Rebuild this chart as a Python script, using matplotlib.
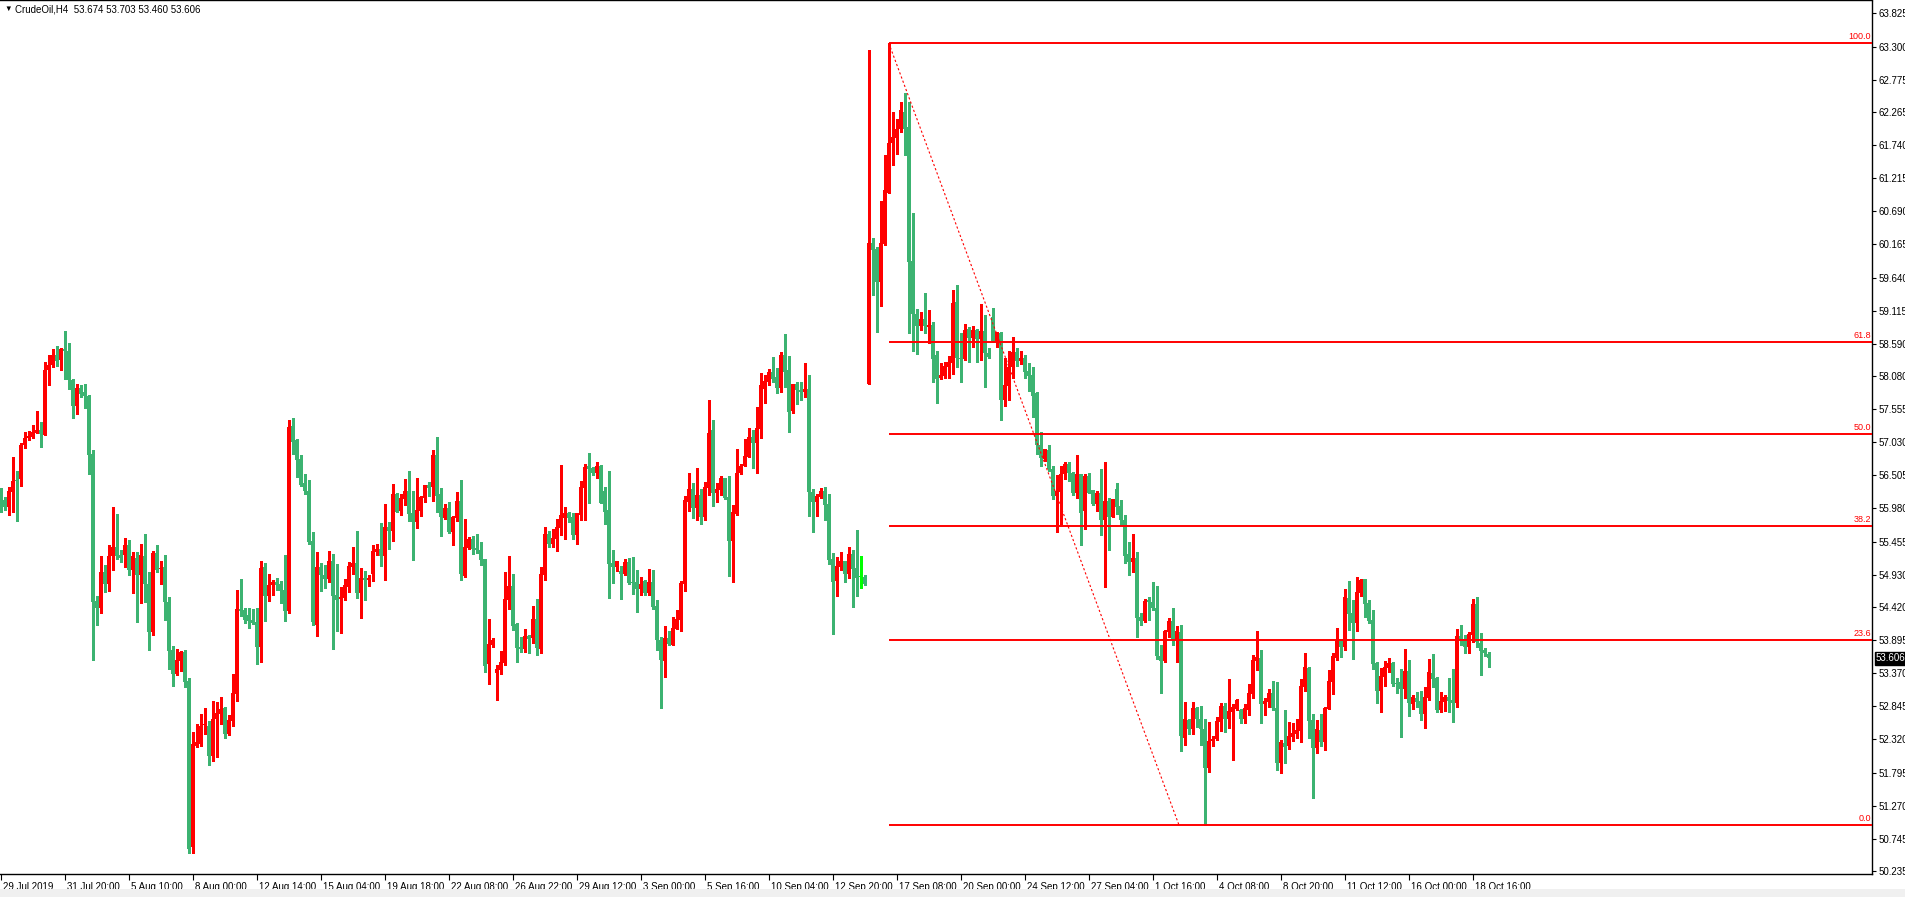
import numpy as np
import matplotlib
matplotlib.use('Agg')
import matplotlib.pyplot as plt
from matplotlib.patches import Rectangle
from matplotlib.transforms import ScaledTranslation, blended_transform_factory

plt.rcParams['font.family'] = ['Liberation Sans', 'DejaVu Sans']

symbol = 'CrudeOil,H4'
last_ohlc = [53.674, 53.703, 53.460, 53.606]

# H4 candles, 29 Jul 2019 .. 18 Oct 2019
opens = [
    56.18, 56.11, 56.01, 56.24, 56.42, 56.45, 56.99, 57.09, 57.11, 57.18,
    57.23, 57.15, 58.17, 58.25, 58.42, 58.33, 58.50, 58.48, 58.01, 57.61,
    57.89, 57.82, 57.76, 56.84, 54.52, 54.41, 54.98, 54.78, 55.22, 55.37,
    55.25, 55.25, 55.40, 55.00, 55.20, 54.92, 55.23, 54.79, 54.03, 55.28,
    55.02, 55.05, 54.50, 53.73, 53.36, 53.56, 53.71, 53.24, 50.62, 52.22,
    52.24, 52.55, 52.54, 52.05, 52.65, 52.73, 52.82, 52.40, 52.61, 53.04,
    54.38, 54.37, 54.29, 54.21, 54.18, 53.79, 55.05, 54.59, 54.76, 54.81,
    54.78, 54.69, 54.35, 57.29, 57.07, 56.76, 56.38, 56.25, 55.46, 54.13,
    55.05, 54.92, 54.86, 55.15, 54.61, 54.54, 54.56, 54.74, 55.05, 55.11,
    54.64, 54.88, 54.84, 54.94, 55.29, 55.34, 55.22, 55.68, 55.62, 56.21,
    55.94, 56.13, 56.25, 55.91, 55.76, 55.94, 56.15, 56.36, 56.32, 56.82,
    56.21, 55.83, 55.98, 55.60, 55.83, 56.10, 54.91, 55.35, 55.49, 55.35,
    55.32, 55.18, 53.51, 53.81, 53.37, 53.42, 53.53, 54.53, 54.75, 54.15,
    53.78, 53.75, 53.96, 53.92, 54.23, 53.75, 54.92, 55.57, 55.41, 55.49,
    55.67, 55.83, 55.91, 55.84, 55.56, 55.87, 56.30, 56.65, 56.62, 56.54,
    56.65, 56.25, 55.95, 55.11, 55.06, 54.99, 54.94, 55.13, 54.81, 54.81,
    54.70, 54.83, 54.64, 54.81, 54.44, 53.90, 53.57, 53.93, 53.82, 54.07,
    54.21, 54.79, 56.09, 56.29, 55.98, 56.19, 55.84, 56.30, 57.22, 56.23,
    56.27, 56.46, 56.16, 55.47, 55.90, 56.54, 56.66, 56.79, 57.11, 57.01,
    57.24, 57.87, 57.98, 58.14, 58.06, 57.89, 58.42, 58.17, 57.52, 57.95,
    57.85, 57.82, 57.87, 56.24, 56.08, 56.16, 56.25, 56.05, 55.18, 54.83,
    55.06, 55.15, 54.94, 55.26, 55.04, 54.89, 54.90,
    57.95, 60.19, 60.09,
    59.57, 60.17, 60.98, 61.77, 61.85, 61.99, 62.27, 62.02, 59.90, 59.07,
    58.87, 58.98, 58.86, 58.89, 58.41, 58.05, 58.08, 58.22, 58.29, 59.25,
    58.37, 58.35, 58.82, 58.68, 58.81, 58.67, 58.79, 58.45, 59.01, 58.63,
    58.76, 57.70, 57.92, 58.22, 58.46, 58.32, 58.37, 58.16, 58.10, 57.81,
    56.98, 56.77, 56.91, 56.60, 56.18, 56.24, 56.52, 56.69, 56.54, 56.23,
    56.52, 55.94, 56.49, 56.27, 56.05, 56.22, 55.79, 56.10, 55.85, 56.29,
    56.02, 55.80, 55.26, 55.13, 55.19, 54.26, 54.20, 54.53, 54.50, 54.40,
    53.64, 53.57, 54.03, 54.20, 53.90, 54.03, 52.35, 52.63, 52.49, 52.81,
    52.64, 52.48, 51.87, 52.29, 52.33, 52.59, 52.85, 52.64, 52.76, 52.80,
    52.79, 52.64, 52.79, 53.04, 53.56, 53.61, 52.88, 52.91, 53.05, 52.82,
    51.95, 52.26, 52.21, 52.36, 52.40, 52.45, 53.15, 53.45, 52.63, 52.18,
    52.47, 52.28, 52.80, 53.23, 53.61, 53.88, 53.78, 54.56, 54.32, 54.16,
    54.64, 54.86, 54.48, 54.21, 53.53, 53.09, 53.31, 53.45, 53.53, 53.21,
    53.23, 53.12, 53.40, 52.88, 52.98, 52.93, 52.72, 52.98, 53.37, 53.29,
    52.79, 52.91, 52.99, 52.94, 52.90, 53.96, 53.91, 53.78, 53.97, 54.46,
    53.85, 53.74, 53.674,
]
highs = [
    56.30, 56.16, 56.32, 56.80, 56.58, 57.02, 57.20, 57.21, 57.31, 57.52,
    57.35, 58.30, 58.42, 58.50, 58.55, 58.52, 58.80, 58.61, 58.03, 57.96,
    57.94, 57.96, 57.78, 56.90, 54.60, 55.23, 55.08, 55.40, 56.00, 55.89,
    55.32, 55.51, 55.48, 55.29, 55.29, 55.42, 55.57, 54.98, 55.30, 55.40,
    55.15, 55.25, 54.57, 53.80, 53.75, 53.72, 53.74, 53.29, 52.44, 52.56,
    52.72, 52.82, 52.61, 52.93, 52.92, 53.00, 52.84, 52.71, 53.36, 54.69,
    54.87, 54.40, 54.41, 54.39, 54.41, 55.15, 55.12, 54.94, 54.84, 54.88,
    54.83, 55.25, 57.39, 57.42, 57.08, 56.82, 56.52, 56.43, 55.60, 55.29,
    55.12, 55.08, 55.30, 55.26, 55.10, 54.73, 54.86, 55.13, 55.37, 55.62,
    55.03, 54.99, 54.92, 55.40, 55.42, 55.75, 56.05, 55.76, 56.37, 56.22,
    56.21, 56.44, 56.57, 56.25, 56.46, 56.18, 56.36, 56.40, 56.90, 57.11,
    56.30, 56.05, 56.08, 55.86, 56.24, 56.43, 55.81, 55.53, 55.54, 55.57,
    55.45, 55.18, 54.23, 53.92, 53.50, 53.72, 54.97, 55.22, 54.94, 54.16,
    53.94, 54.07, 53.97, 54.43, 54.54, 55.05, 55.68, 55.62, 55.65, 55.81,
    56.67, 56.00, 55.92, 55.91, 55.91, 56.41, 56.68, 56.86, 56.63, 56.71,
    56.67, 56.32, 56.57, 55.32, 55.15, 55.07, 55.18, 55.20, 55.21, 55.00,
    54.89, 54.84, 55.02, 55.01, 54.53, 53.95, 54.12, 54.04, 54.26, 54.37,
    54.83, 56.18, 56.54, 56.39, 56.62, 56.29, 56.40, 57.70, 57.38, 56.38,
    56.49, 56.47, 56.50, 56.03, 56.92, 56.68, 57.08, 57.26, 57.22, 57.59,
    58.12, 58.09, 58.19, 58.38, 58.20, 58.46, 58.74, 58.39, 57.96, 57.98,
    57.99, 58.28, 58.09, 56.29, 56.21, 56.30, 56.32, 56.21, 55.27, 55.21,
    55.29, 55.15, 55.37, 55.32, 55.64, 55.22, 54.92,
    63.24, 60.26, 60.12,
    60.86, 61.58, 63.355, 62.27, 62.15, 62.42, 62.56, 62.42, 60.66, 59.14,
    59.10, 59.39, 59.13, 58.93, 58.47, 58.29, 58.30, 58.40, 59.44, 59.52,
    58.76, 58.90, 58.86, 58.88, 58.82, 59.22, 59.05, 58.52, 59.15, 58.78,
    58.78, 58.37, 58.48, 58.70, 58.52, 58.48, 58.41, 58.29, 58.22, 57.82,
    57.19, 56.93, 56.98, 56.65, 56.51, 56.65, 56.72, 56.72, 56.56, 56.82,
    56.53, 56.52, 56.55, 56.28, 56.25, 56.60, 56.72, 56.15, 56.13, 56.38,
    56.11, 55.87, 55.45, 55.57, 55.29, 54.32, 54.55, 54.58, 54.82, 54.75,
    53.81, 54.06, 54.24, 54.40, 54.11, 54.13, 52.91, 52.65, 52.91, 52.84,
    52.85, 52.64, 52.60, 52.37, 52.68, 52.90, 52.90, 53.28, 52.88, 52.96,
    52.80, 52.88, 53.20, 53.66, 54.04, 53.74, 52.97, 53.12, 53.24, 53.23,
    52.31, 52.79, 52.60, 52.58, 52.64, 53.28, 53.69, 53.47, 52.72, 52.63,
    52.72, 52.83, 53.42, 53.69, 54.08, 53.91, 54.70, 54.83, 54.53, 54.89,
    54.86, 54.86, 54.53, 54.37, 53.54, 53.45, 53.56, 53.61, 53.54, 53.29,
    53.43, 53.75, 53.58, 53.02, 53.07, 53.09, 53.15, 53.59, 53.67, 53.31,
    53.07, 53.02, 53.29, 53.43, 54.07, 54.13, 53.97, 54.02, 54.54, 54.57,
    54.00, 53.77, 53.703,
]
lows = [
    55.93, 55.96, 55.88, 55.93, 55.78, 56.34, 56.94, 57.07, 57.09, 57.17,
    56.95, 57.14, 57.94, 58.22, 58.24, 58.18, 58.04, 57.87, 57.41, 57.48,
    57.74, 57.58, 56.53, 53.58, 54.13, 54.32, 54.66, 54.68, 55.01, 55.18,
    55.13, 55.05, 54.92, 54.64, 54.18, 54.48, 54.50, 53.74, 53.98, 54.98,
    54.79, 54.21, 53.43, 53.17, 53.34, 53.40, 53.15, 50.52, 50.52, 52.20,
    52.22, 52.41, 51.92, 51.97, 52.04, 52.57, 52.35, 52.39, 52.53, 52.93,
    54.27, 54.17, 54.09, 54.15, 53.52, 53.54, 54.20, 54.52, 54.61, 54.69,
    54.48, 54.20, 54.32, 56.84, 56.48, 56.33, 56.21, 55.41, 54.13, 53.96,
    54.68, 54.72, 54.81, 53.75, 54.04, 54.01, 54.53, 54.65, 54.94, 54.56,
    54.24, 54.53, 54.75, 54.83, 55.24, 55.07, 54.84, 55.34, 55.46, 55.92,
    55.87, 56.03, 55.78, 55.16, 55.67, 55.86, 56.08, 56.17, 56.10, 55.92,
    55.55, 55.81, 55.59, 55.40, 55.78, 54.84, 54.89, 55.34, 55.26, 55.27,
    55.08, 53.39, 53.20, 53.79, 52.94, 53.36, 53.50, 54.39, 54.05, 53.55,
    53.70, 53.70, 53.69, 53.85, 53.66, 53.69, 54.84, 55.37, 55.37, 55.30,
    55.56, 55.49, 55.76, 55.49, 55.41, 55.79, 55.79, 56.06, 56.51, 56.46,
    56.06, 55.73, 54.56, 54.80, 54.99, 54.55, 54.93, 54.79, 54.63, 54.34,
    54.61, 54.61, 54.61, 54.38, 53.74, 52.82, 53.31, 53.82, 53.82, 54.07,
    54.04, 54.67, 55.94, 55.83, 55.79, 55.74, 55.79, 56.20, 56.02, 56.09,
    56.20, 56.13, 54.91, 54.81, 55.87, 56.52, 56.65, 56.79, 56.62, 56.54,
    57.09, 57.65, 57.93, 57.99, 57.81, 57.82, 57.90, 57.19, 57.49, 57.63,
    57.70, 57.74, 55.86, 55.60, 55.86, 56.14, 55.79, 55.10, 53.99, 54.60,
    55.01, 54.81, 54.88, 54.42, 54.60, 54.72, 54.77,
    57.95, 59.36, 58.78,
    59.19, 60.15, 60.98, 61.42, 61.60, 61.94, 61.59, 58.76, 58.48, 58.43,
    58.81, 58.76, 58.60, 57.99, 57.65, 58.03, 58.05, 58.05, 58.11, 58.22,
    57.99, 58.33, 58.30, 58.54, 58.30, 58.33, 57.91, 58.37, 58.62, 58.54,
    57.38, 57.60, 57.70, 58.05, 58.24, 58.27, 58.05, 57.84, 57.43, 56.85,
    56.65, 56.74, 56.58, 56.13, 55.61, 55.73, 56.44, 56.42, 56.20, 56.14,
    55.40, 55.65, 56.22, 56.03, 55.94, 55.56, 54.74, 55.32, 55.85, 55.90,
    55.72, 55.11, 54.92, 54.98, 53.95, 54.14, 54.18, 54.21, 54.37, 53.59,
    53.05, 53.55, 53.95, 53.81, 53.55, 52.14, 52.23, 52.41, 52.40, 52.52,
    52.23, 50.97, 51.81, 52.22, 52.31, 52.45, 52.43, 52.50, 51.99, 52.79,
    52.58, 52.58, 52.71, 52.98, 53.42, 52.58, 52.71, 52.84, 52.79, 51.83,
    51.79, 51.95, 52.17, 52.29, 52.34, 52.28, 53.09, 52.34, 51.39, 52.10,
    52.22, 52.15, 52.80, 53.04, 53.58, 53.62, 53.74, 54.05, 53.59, 54.04,
    54.59, 54.26, 54.16, 53.43, 52.90, 52.75, 53.17, 53.39, 53.17, 53.05,
    52.36, 52.97, 52.69, 52.80, 52.83, 52.63, 52.50, 52.94, 53.15, 52.75,
    52.75, 52.77, 52.75, 52.59, 52.83, 53.81, 53.69, 53.69, 53.86, 53.78,
    53.34, 53.64, 53.460,
]
closes = [
    56.10, 56.01, 56.26, 56.42, 56.41, 56.99, 57.10, 57.13, 57.20, 57.23,
    57.16, 58.18, 58.25, 58.42, 58.31, 58.50, 58.47, 58.01, 57.61, 57.89,
    57.80, 57.76, 56.82, 54.49, 54.41, 54.98, 54.78, 55.23, 55.37, 55.23,
    55.19, 55.40, 55.00, 55.22, 54.92, 55.25, 54.78, 54.03, 55.28, 55.01,
    55.03, 54.50, 53.72, 53.36, 53.58, 53.71, 53.23, 50.59, 52.24, 52.28,
    52.54, 52.56, 52.05, 52.65, 52.74, 52.80, 52.40, 52.62, 53.05, 54.39,
    54.35, 54.21, 54.20, 54.17, 53.79, 55.03, 54.59, 54.77, 54.81, 54.77,
    54.68, 54.35, 57.27, 57.04, 56.75, 56.35, 56.25, 55.45, 54.18, 55.05,
    54.92, 54.86, 55.15, 54.59, 54.53, 54.58, 54.77, 55.07, 55.12, 54.64,
    54.88, 54.84, 54.88, 55.30, 55.34, 55.22, 55.68, 55.62, 56.21, 55.92,
    56.14, 56.25, 55.90, 55.76, 55.95, 56.16, 56.35, 56.30, 56.82, 56.17,
    55.84, 55.98, 55.60, 55.84, 56.10, 54.94, 55.37, 55.49, 55.34, 55.32,
    55.16, 53.48, 53.83, 53.89, 53.43, 53.55, 54.54, 54.75, 54.12, 53.77,
    53.75, 53.96, 53.91, 54.23, 53.77, 54.94, 55.57, 55.41, 55.51, 55.68,
    55.87, 55.91, 55.83, 55.56, 55.91, 56.32, 56.63, 56.60, 56.55, 56.65,
    56.06, 55.92, 55.10, 55.06, 55.14, 54.94, 55.13, 54.80, 54.80, 54.70,
    54.78, 54.64, 54.81, 54.42, 53.90, 53.58, 53.93, 53.84, 54.08, 54.23,
    54.80, 56.11, 56.29, 55.98, 56.19, 55.84, 56.32, 57.18, 56.23, 56.29,
    56.46, 56.14, 55.47, 55.92, 56.55, 56.66, 56.81, 57.11, 57.01, 57.25,
    57.93, 58.00, 58.14, 58.04, 57.89, 58.42, 58.15, 57.51, 57.95, 57.85,
    57.82, 57.87, 56.24, 56.09, 56.17, 56.25, 56.03, 55.17, 54.81, 55.07,
    55.15, 54.94, 55.26, 55.02, 54.88, 54.89, 54.79,
    60.19, 60.07, 59.57,
    60.18, 61.02, 61.78, 61.86, 62.00, 62.29, 62.00, 59.89, 59.06, 58.87,
    58.98, 58.87, 58.89, 58.35, 58.03, 58.10, 58.24, 58.30, 59.23, 58.37,
    58.35, 58.81, 58.68, 58.81, 58.67, 58.80, 58.44, 58.38, 58.63, 58.78,
    57.70, 57.93, 58.22, 58.46, 58.32, 58.37, 58.14, 58.08, 57.77, 56.98,
    56.78, 56.93, 56.60, 56.18, 56.25, 56.53, 56.69, 56.54, 56.23, 56.52,
    55.91, 56.49, 56.23, 56.05, 56.22, 55.79, 56.10, 55.85, 56.13, 56.01,
    55.79, 55.23, 55.13, 55.19, 54.25, 54.20, 54.52, 54.49, 54.40, 53.64,
    53.57, 54.04, 54.20, 53.90, 54.04, 52.37, 52.64, 52.49, 52.81, 52.64,
    52.48, 51.87, 52.29, 52.33, 52.61, 52.85, 52.64, 52.77, 52.83, 52.94,
    52.64, 52.82, 53.05, 53.58, 53.62, 52.88, 52.93, 53.05, 52.82, 51.95,
    52.28, 52.20, 52.37, 52.42, 52.47, 53.17, 53.47, 52.61, 52.18, 52.48,
    52.28, 52.82, 53.24, 53.64, 53.88, 53.78, 54.58, 54.31, 54.16, 54.65,
    54.84, 54.46, 54.19, 53.51, 53.09, 53.32, 53.47, 53.53, 53.20, 53.20,
    53.12, 53.40, 52.90, 52.99, 52.91, 52.72, 52.99, 53.39, 53.28, 52.79,
    52.93, 52.99, 52.93, 52.90, 53.96, 53.89, 53.78, 53.99, 54.46, 53.86,
    53.72, 53.69, 53.606,
]

date_labels = ['29 Jul 2019', '31 Jul 20:00', '5 Aug 10:00', '8 Aug 00:00',
               '12 Aug 14:00', '15 Aug 04:00', '19 Aug 18:00', '22 Aug 08:00',
               '26 Aug 22:00', '29 Aug 12:00', '3 Sep 00:00', '5 Sep 16:00',
               '10 Sep 04:00', '12 Sep 20:00', '17 Sep 08:00', '20 Sep 00:00',
               '24 Sep 12:00', '27 Sep 04:00', '1 Oct 16:00', '4 Oct 08:00',
               '8 Oct 20:00', '11 Oct 12:00', '16 Oct 00:00', '18 Oct 16:00']
bars_per_label = 16

price_ticks = [63.825, 63.300, 62.775, 62.265, 61.740, 61.215, 60.690, 60.165,
               59.640, 59.115, 58.590, 58.080, 57.555, 57.030, 56.505, 55.980,
               55.455, 54.930, 54.420, 53.895, 53.370, 52.845, 52.320, 51.795,
               51.270, 50.745, 50.235]

# fibonacci retracement drawn on the chart
fib_high = 63.355
fib_low = 50.97
fib_start_bar = 222
fib_low_bar = 294.5
fib_levels = [0.0, 23.6, 38.2, 50.0, 61.8, 100.0]

bull_color = '#ff0000'
bear_color = '#3cb371'
doji_color = '#00ff00'

W, H = 1905, 897
fig = plt.figure(figsize=(W / 100, H / 100), dpi=100)
fig.patch.set_facecolor('white')
ax = fig.add_axes([0, 23 / H, 1872 / W, 873.5 / H])

x = np.arange(len(opens))
o = np.array(opens)
h = np.array(highs)
l = np.array(lows)
c = np.array(closes)
o[215] = c[215]  # flat bar
colors = np.where(c > o, bull_color, np.where(c < o, bear_color, doji_color))

ax.vlines(x, l, h, colors=colors, linewidth=0.75, antialiased=False, zorder=2)
body_low = np.minimum(o, c)
body_h = np.maximum(np.abs(c - o), 0.014)
ax.bar(x, body_h, width=0.68, bottom=body_low, color=colors, linewidth=0,
       antialiased=False, zorder=3)

x_left = -0.2
x_right = x_left + 1872 / 4
ax.set_xlim(x_left, x_right)
ax.set_ylim(50.187, 64.031)

# fibo levels + trend line
rng = fib_high - fib_low
tr = blended_transform_factory(ax.transAxes, ax.transData)
for lev in fib_levels:
    y = fib_low + rng * lev / 100
    ax.plot([fib_start_bar, x_right], [y, y], color='red', lw=1.4,
            solid_capstyle='butt', zorder=4)
    ax.text(0.9995, y + 0.03, f'{lev:.1f}', transform=tr, color='red',
            fontsize=6.5, ha='right', va='bottom', zorder=5)
ax.plot([fib_start_bar, fib_low_bar], [fib_high, fib_low], color='red',
        lw=0.8, linestyle=(0, (2, 2)), zorder=4)

# axes
ax.spines['left'].set_visible(False)
for s in ['right', 'bottom', 'top']:
    ax.spines[s].set_linewidth(1.0)
    ax.spines[s].set_color('black')

ax.yaxis.tick_right()
ax.set_yticks(price_ticks)
ax.set_yticklabels([f'{p:.3f}' for p in price_ticks])
ax.tick_params(axis='y', direction='out', length=3, width=0.8, pad=2,
               labelsize=7, colors='black')

ax.set_xticks(np.arange(len(date_labels)) * bars_per_label)
ax.set_xticklabels(date_labels, ha='left')
ax.tick_params(axis='x', direction='out', length=4, width=0.8, pad=1.5,
               labelsize=7, colors='black')
shift = ScaledTranslation(2 / 100, 0, fig.dpi_scale_trans)
for lbl in ax.get_xticklabels():
    lbl.set_transform(lbl.get_transform() + shift)

# last price tag
ax.text(1.0, last_ohlc[3], f'{last_ohlc[3]:.3f}',
        transform=tr + ScaledTranslation(4 / 100, 0, fig.dpi_scale_trans),
        color='white', fontsize=7, ha='left', va='center', zorder=6,
        bbox=dict(boxstyle='square,pad=0.15', fc='black', ec='black'),
        clip_on=False)

# header
fig.text(4 / W, 1 - 9 / H, '\u25bc', fontsize=5.5, va='center', ha='left')
fig.text(15 / W, 1 - 9 / H,
         f'{symbol}  ' + ' '.join(f'{v:.3f}' for v in last_ohlc),
         fontsize=7, va='center', ha='left', color='black')

# gray strip at the bottom of the window
fig.patches.append(Rectangle((0, 0), 1, 8 / H, transform=fig.transFigure,
                             facecolor='#f0f0f0', edgecolor='none', zorder=0))

fig.savefig('out.png', dpi=100)
